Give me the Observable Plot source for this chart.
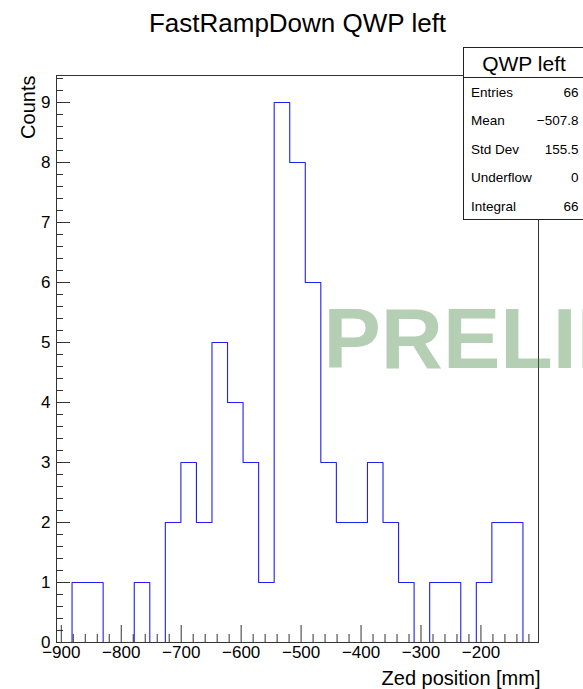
<!DOCTYPE html>
<html>
<head>
<meta charset="utf-8">
<script src="https://cdn.jsdelivr.net/npm/d3@7"></script>
<script src="https://cdn.jsdelivr.net/npm/@observablehq/plot@0.6"></script>
<style>
  html, body { margin: 0; padding: 0; background: #fff; }
  #chart svg { display: block; }
</style>
</head>
<body>
<div id="chart"></div>
<script>
// Histogram of Zed positions, fixed-width bins over histRange
const title = "FastRampDown QWP left";
const xLabel = "Zed position [mm]";
const yLabel = "Counts";
const histRange = [-908, -104];
const counts = [0, 1, 1, 0, 0, 1, 0, 2, 3, 2, 5, 4, 3, 1, 9, 8, 6, 3, 2, 2, 3, 2, 1, 0, 1, 1, 0, 1, 2, 2, 0];
const xTicks = [-900, -800, -700, -600, -500, -400, -300, -200];
const yTicks = [0, 1, 2, 3, 4, 5, 6, 7, 8, 9];
const yMax = 9.45;

// Statistics box
const statsName = "QWP left";
const statsLabels = ["Entries", "Mean", "Std Dev", "Underflow", "Integral"];
const statsValues = ["66", "\u2212507.8", "155.5", "0", "66"];

const watermark = "PRELIMINARY";

const FONT = "'Liberation Sans', Arial, Helvetica, sans-serif";
const W = 583, H = 689;

// Outline of the histogram as a step path along the bin edges
const binWidth = (histRange[1] - histRange[0]) / counts.length;
const outline = [{x: histRange[0], y: 0}];
counts.forEach((c, i) => {
  const x0 = histRange[0] + i * binWidth;
  outline.push({x: x0, y: c}, {x: x0 + binWidth, y: c});
});
outline.push({x: histRange[1], y: 0});

// Secondary divisions between the labelled ticks
const xMinor = d3.range(-900, histRange[1], 20).filter(v => v % 100 !== 0);
const yMinor = d3.range(0, yMax, 0.2).map(v => +v.toFixed(1)).filter(v => !Number.isInteger(v));

const fmt = d => (d < 0 ? "\u2212" + Math.abs(d) : String(d));
const tickColor = "#333";

const plot = Plot.plot({
  width: W,
  height: H,
  marginLeft: 56,
  marginRight: 45,
  marginTop: 75,
  marginBottom: 47,
  style: {fontFamily: FONT, background: "#fff", color: "#000"},
  x: {domain: histRange},
  y: {domain: [0, yMax]},
  marks: [
    Plot.line(outline, {x: "x", y: "y", stroke: "#2020f0", strokeWidth: 1.1}),
    // ticks point into the frame
    Plot.axisX(xTicks, {tickSize: -17, fill: "none", stroke: tickColor, label: null}),
    Plot.axisX(xMinor, {tickSize: -8, fill: "none", stroke: tickColor, label: null}),
    Plot.axisX(xTicks, {tickSize: 0, tickPadding: 3, tickFormat: fmt, fontSize: 17, stroke: "none", label: null}),
    Plot.axisY(yTicks, {tickSize: -14, fill: "none", stroke: tickColor, label: null}),
    Plot.axisY(yMinor, {tickSize: -7, fill: "none", stroke: tickColor, label: null}),
    Plot.axisY(yTicks, {tickSize: 0, tickPadding: 6, tickFormat: fmt, fontSize: 17, stroke: "none", label: null}),
    Plot.frame({stroke: tickColor}),
    Plot.text([xLabel], {frameAnchor: "bottom-right", dx: 2, dy: 42, textAnchor: "end", lineAnchor: "bottom", fontSize: 20}),
    Plot.text([yLabel], {frameAnchor: "top-left", rotate: -90, dx: -22, textAnchor: "end", lineAnchor: "bottom", fontSize: 20}),
    Plot.text([title], {frameAnchor: "top", dy: -44, lineAnchor: "bottom", fontSize: 26}),
    Plot.text([watermark], {
      frameAnchor: "top-left", dx: 267, dy: 292, textAnchor: "start", lineAnchor: "bottom",
      fontSize: 86, fontWeight: "bold", fill: "rgb(60,128,60)", fillOpacity: 0.38
    })
  ]
});

document.getElementById("chart").appendChild(plot);

// Statistics box in the top-right corner
const svg = d3.select(plot);
const box = svg.append("g").attr("font-family", FONT).attr("text-anchor", "start");
box.append("rect")
  .attr("x", 463.5).attr("y", 47.5).attr("width", 130).attr("height", 172)
  .attr("fill", "#fff").attr("stroke", "#222");
box.append("line")
  .attr("x1", 463.5).attr("x2", 593).attr("y1", 77.5).attr("y2", 77.5)
  .attr("stroke", "#222");
box.append("text")
  .attr("x", 524).attr("y", 70.5).attr("text-anchor", "middle")
  .attr("font-size", 21).text(statsName);
statsLabels.forEach((label, i) => {
  const y = 96.5 + i * 28.6;
  box.append("text").attr("x", 471).attr("y", y).attr("text-anchor", "start")
    .attr("font-size", 13.5).text(label);
  box.append("text").attr("x", 578.5).attr("y", y).attr("text-anchor", "end")
    .attr("font-size", 13.5).text(statsValues[i]);
});
</script>
</body>
</html>
